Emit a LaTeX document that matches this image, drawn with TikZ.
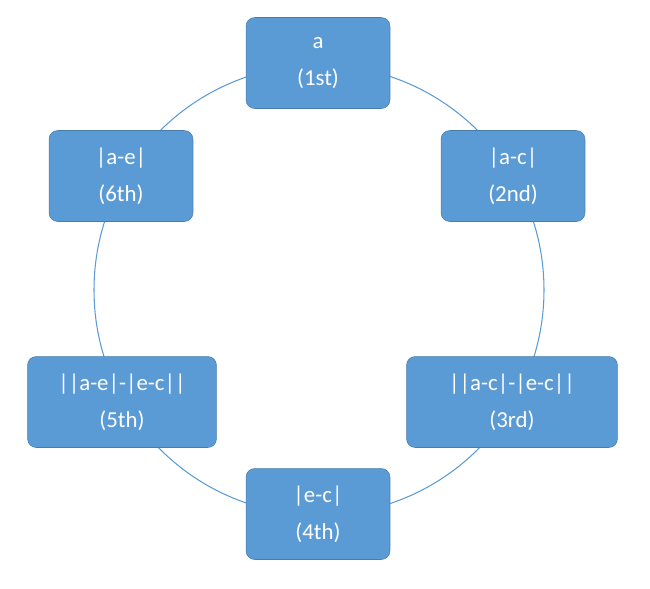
\documentclass[tikz,border=0pt]{standalone}
\usepackage{fontspec}
\setmainfont{Carlito}
\usetikzlibrary{positioning}
\definecolor{boxblue}{HTML}{5B9BD5}
\definecolor{ringblue}{HTML}{5B9BD5}

\begin{document}
\begin{tikzpicture}[x=0.02cm, y=-0.02cm,
    stage/.style={rectangle, rounded corners=5pt, fill=boxblue, draw=boxblue!80!black, line width=0.3pt,
      text=white, align=center, minimum width=2.88cm, minimum height=1.82cm, font=\fontsize{13}{21}\selectfont}]

    \useasboundingbox (0,0) rectangle (650,589);
    \draw[ringblue, line width=0.6pt] (319,290) circle [radius=225];

    \node[stage] (first) at (318,63) {a\\(1st)};
    \node[stage] (second) at (513,176) {|a-c|\\(2nd)};
    \node[stage, minimum width=4.22cm] (third) at (512,402) {||a-c|-|e-c||\\(3rd)};
    \node[stage] (fourth) at (318,514) {|e-c|\\(4th)};
    \node[stage, minimum width=3.78cm] (fifth) at (122,402) {||a-e|-|e-c||\\(5th)};
    \node[stage] (sixth) at (121,176) {|a-e|\\(6th)};
\end{tikzpicture}
\end{document}
